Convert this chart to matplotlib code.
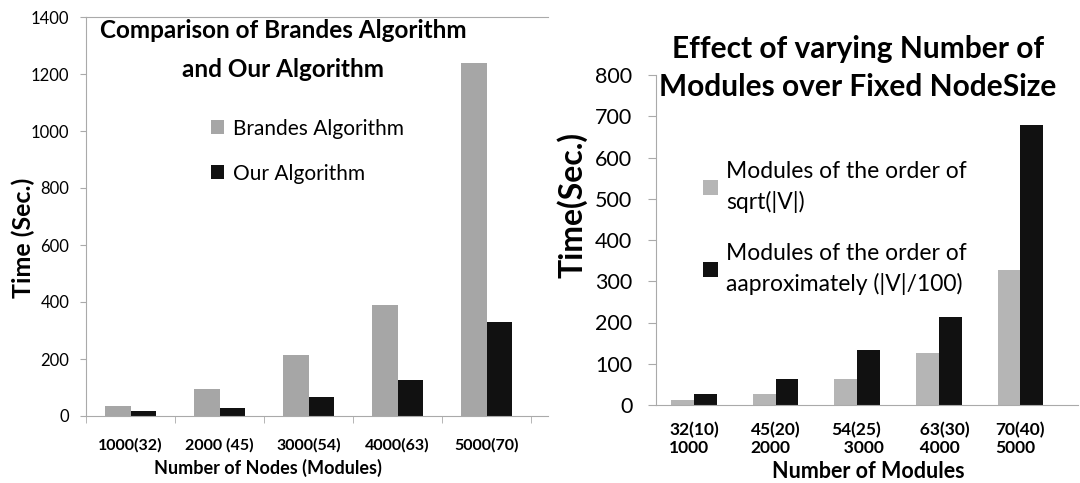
import numpy as np
import matplotlib
matplotlib.use('Agg')
import matplotlib.pyplot as plt

plt.rcParams['font.family'] = ['Lato', 'DejaVu Sans']

#%% data
leftCats = ['1000(32)', '2000 (45)', '3000(54)', '4000(63)', '5000(70)']
brandes = [34, 95, 213, 388, 1237]
ours = [16, 29, 67, 126, 329]

rightCats = ['32(10)\n1000', '45(20)\n2000', '54(25)\n   3000', '   63(30)\n   4000', '70(40)\n5000']
sqrtMods = [13, 27, 64, 125, 327]
approxMods = [26, 63, 133, 213, 678]

greyL = '#A6A6A6'
greyR = '#B5B5B5'
blackC = '#111111'
axCol = '#AAAAAA'

W, H = 1080, 483
fig = plt.figure(figsize=(W/100, H/100), dpi=100)

def px_axes(x0, x1, ytop, ybot):
    return fig.add_axes([x0/W, (H-ybot)/H, (x1-x0)/W, (ybot-ytop)/H])

#%% left chart
ax1 = px_axes(86, 548, 17, 416)
xL = np.arange(len(leftCats))
bw = 0.29
ax1.bar(xL-bw/2, brandes, bw, color=greyL, label='Brandes Algorithm')
ax1.bar(xL+bw/2, ours, bw, color=blackC, label='Our Algorithm')
ax1.set_xlim(-0.5, 4.69)
ax1.set_ylim(0, 1400)
ax1.set_yticks(np.arange(0, 1401, 200))
ax1.tick_params(axis='y', labelsize=12, length=4, color=axCol, pad=8)
ax1.set_xticks(xL)
ax1.set_xticklabels(leftCats, fontweight='bold', fontsize=11.5)
ax1.set_xticks(np.arange(-0.5, 4.6, 1.0), minor=True)
ax1.tick_params(axis='x', which='major', length=0, pad=16)
ax1.tick_params(axis='x', which='minor', length=5, color=axCol)
for s in ['left', 'bottom', 'top']:
    ax1.spines[s].set_color(axCol)
ax1.spines['right'].set_visible(False)
ax1.set_ylabel('Time (Sec.)', fontweight='bold', fontsize=18)
ax1.yaxis.set_label_coords(-0.110, 0.446)
ax1.set_xlabel('Number of Nodes (Modules)', fontweight='bold', fontsize=13)
ax1.xaxis.set_label_coords(0.394, -0.108)
fig.text(283/W, 1-50/H, 'Comparison of Brandes Algorithm\nand Our Algorithm',
         ha='center', va='center', fontweight='bold', fontsize=17.5, linespacing=1.8)
ax1.legend(loc='upper left', bbox_to_anchor=(0.27, 0.745), frameon=False, fontsize=15,
           handlelength=0.65, handleheight=0.65, handletextpad=0.4, labelspacing=1.2,
           borderaxespad=0, borderpad=0)

#%% right chart
ax2 = px_axes(656, 1078, 75, 405)
xR = np.arange(len(rightCats))
bw2 = 0.28
ax2.bar(xR-bw2/2, sqrtMods, bw2, color=greyR, label='Modules of the order of\nsqrt(|V|)')
ax2.bar(xR+bw2/2, approxMods, bw2, color=blackC, label='Modules of the order of\naaproximately (|V|/100)')
ax2.set_xlim(-0.466, 4.706)
ax2.set_ylim(0, 800)
ax2.set_yticks(np.arange(0, 801, 100))
ax2.tick_params(axis='y', labelsize=15.5, length=6, color=axCol, pad=11)
ax2.set_xticks(xR)
ax2.set_xticklabels(rightCats, fontweight='bold', fontsize=12.5, multialignment='left', linespacing=1.15)
ax2.tick_params(axis='x', length=0, pad=12)
for s in ['left', 'bottom']:
    ax2.spines[s].set_color(axCol)
for s in ['right', 'top']:
    ax2.spines[s].set_visible(False)
ax2.set_ylabel('Time(Sec.)', fontweight='bold', fontsize=23)
ax2.yaxis.set_label_coords(-0.1635, 0.606)
ax2.set_xlabel('Number of Modules', fontweight='bold', fontsize=15.5)
ax2.xaxis.set_label_coords(0.502, -0.17)
fig.text(858/W, 1-68/H, 'Effect of varying Number of\nModules over Fixed NodeSize', ha='center', va='center',
         fontweight='bold', fontsize=21.5, linespacing=1.4)
leg2 = ax2.legend(loc='upper left', bbox_to_anchor=(0.111, 0.74), frameon=False, fontsize=16.5,
                  handlelength=0.65, handleheight=0.65, handletextpad=0.35, labelspacing=1.3,
                  borderaxespad=0, borderpad=0)
for t in leg2.get_texts():
    t.set_linespacing(1.5)

plt.savefig('out.png', dpi=100)
